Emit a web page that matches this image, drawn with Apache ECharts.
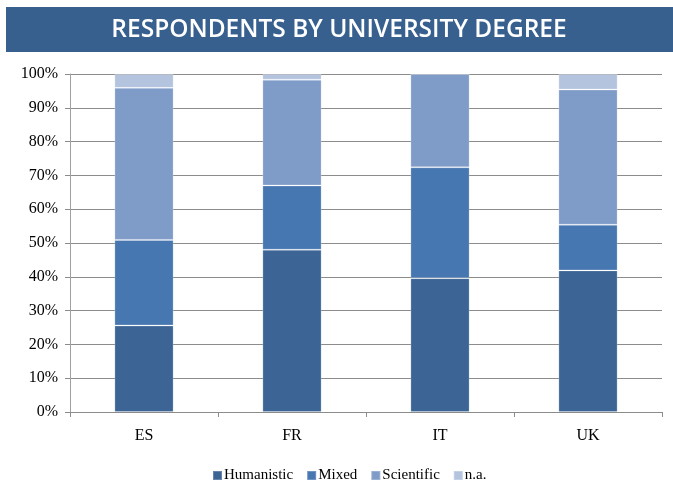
<!DOCTYPE html>
<html>
<head>
<meta charset="utf-8">
<script src="https://cdn.jsdelivr.net/npm/echarts@6/dist/echarts.min.js"></script>
<style>
  html, body { margin: 0; padding: 0; background: #ffffff; }
  #chart { width: 673px; height: 496px; }
</style>
</head>
<body>
<div id="chart"></div>
<script>
// Share of respondents (%) by university degree, per country
const countries = ['ES', 'FR', 'IT', 'UK'];
const humanistic = [25.6, 48.0, 39.6, 41.9];
const mixed = [25.3, 19.0, 32.8, 13.5];
const scientific = [45.0, 31.3, 27.6, 40.0];
const notAvailable = [4.1, 1.7, 0, 4.6];

const seriesNames = ['Humanistic', 'Mixed', 'Scientific', 'n.a.'];
const seriesColors = ['#3c6595', '#4777b0', '#7f9cc8', '#b4c4de'];
const seriesValues = [humanistic, mixed, scientific, notAvailable];

const chart = echarts.init(document.getElementById('chart'));

const serif = 'Liberation Serif';

chart.setOption({
  animation: false,
  backgroundColor: '#ffffff',
  textStyle: { fontFamily: serif },
  graphic: [
    {
      type: 'rect',
      shape: { x: 6, y: 7, width: 667, height: 45 },
      style: { fill: '#37608f' },
      z: 0
    },
    {
      type: 'text',
      x: 339,
      y: 30,
      style: {
        text: 'RESPONDENTS BY UNIVERSITY DEGREE',
        fill: '#ffffff',
        font: '600 24.5px "Open Sans", sans-serif',
        align: 'center',
        verticalAlign: 'middle'
      },
      z: 1
    }
  ],
  grid: { left: 70, right: 11, top: 74, bottom: 84 },
  legend: {
    bottom: 8,
    left: 207,
    itemWidth: 9,
    itemHeight: 9,
    itemGap: 13,
    icon: 'rect',
    textStyle: { fontFamily: serif, fontSize: 15, color: '#000000', padding: [0, 0, 0, -3] },
    data: seriesNames
  },
  xAxis: {
    type: 'category',
    data: countries,
    axisLine: { lineStyle: { color: '#8c8c8c', width: 1 } },
    axisTick: { show: true, length: 5, lineStyle: { color: '#8c8c8c' } },
    axisLabel: { fontFamily: serif, fontSize: 16, color: '#000000', margin: 16 }
  },
  yAxis: {
    type: 'value',
    min: 0,
    max: 100,
    interval: 10,
    axisLine: { show: true, lineStyle: { color: '#a0a0a0', width: 1 } },
    axisTick: { show: true, length: 5, lineStyle: { color: '#8c8c8c' } },
    axisLabel: { fontFamily: serif, fontSize: 16, color: '#000000', margin: 12, formatter: '{value}%' },
    splitLine: { lineStyle: { color: '#8c8c8c', width: 1 } }
  },
  series: seriesNames.map((name, i) => ({
    name: name,
    type: 'bar',
    stack: 'total',
    barWidth: '40%',
    data: seriesValues[i],
    itemStyle: {
      color: seriesColors[i],
      borderColor: 'rgba(255,255,255,0.22)',
      borderWidth: 1
    }
  }))
});
</script>
</body>
</html>
